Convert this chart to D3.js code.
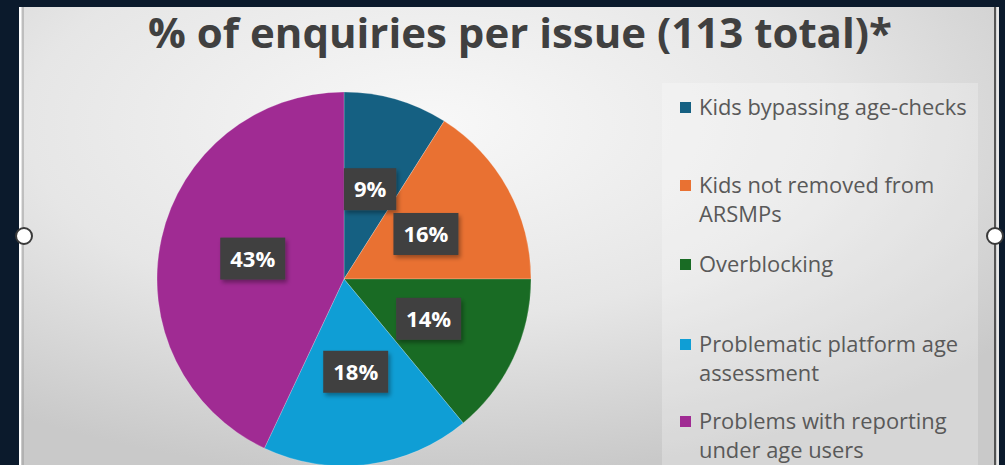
<!DOCTYPE html>
<html>
<head>
<meta charset="utf-8">
<script src="https://cdn.jsdelivr.net/npm/d3@7"></script>
<style>
  html, body { margin: 0; padding: 0; background: #0b1a2c; }
  svg { display: block; }
</style>
</head>
<body>
<svg id="chart" width="1005" height="465"></svg>
<script>
// Enquiries per issue (113 total), shown as percentages
const categories = [
  "Kids bypassing age-checks",
  "Kids not removed from ARSMPs",
  "Overblocking",
  "Problematic platform age assessment",
  "Problems with reporting under age users"
];
const percents = [9, 16, 14, 18, 43];
const colors = ["#156082", "#E97132", "#196B24", "#0F9ED5", "#A02B93"];
const title = "% of enquiries per issue (113 total)*";

const W = 1005, H = 465;
const svg = d3.select("#chart");
const defs = svg.append("defs");

// Soft grey plot-area background
const bg = defs.append("radialGradient").attr("id", "bgGrad")
  .attr("cx", "42%").attr("cy", "25%").attr("r", "75%");
bg.append("stop").attr("offset", "0%").attr("stop-color", "#f8f8f8");
bg.append("stop").attr("offset", "55%").attr("stop-color", "#e6e6e6");
bg.append("stop").attr("offset", "100%").attr("stop-color", "#c9c9c9");

const shadow = defs.append("filter").attr("id", "lblShadow")
  .attr("x", "-20%").attr("y", "-20%").attr("width", "150%").attr("height", "160%");
shadow.append("feDropShadow").attr("dx", 2).attr("dy", 3).attr("stdDeviation", 2)
  .attr("flood-color", "#000").attr("flood-opacity", 0.35);

// Frame
const frame = { x: 19, y: 7, w: 978, h: 470 };
svg.append("rect").attr("x", frame.x).attr("y", frame.y)
  .attr("width", frame.w).attr("height", frame.h)
  .attr("fill", "url(#bgGrad)");
svg.append("line").attr("x1", frame.x + 1).attr("x2", frame.x + 1)
  .attr("y1", frame.y).attr("y2", H).attr("stroke", "#ffffff").attr("stroke-width", 2);
svg.append("line").attr("x1", frame.x + 4).attr("x2", frame.x + 4)
  .attr("y1", frame.y).attr("y2", H).attr("stroke", "#9a9a9a").attr("stroke-width", 1);
svg.append("line").attr("x1", frame.x + frame.w - 2).attr("x2", frame.x + frame.w - 2)
  .attr("y1", frame.y).attr("y2", H).attr("stroke", "#2a2a2a").attr("stroke-width", 1.5);
svg.append("line").attr("x1", frame.x + frame.w + 1).attr("x2", frame.x + frame.w + 1)
  .attr("y1", frame.y).attr("y2", H).attr("stroke", "#e8e8e8").attr("stroke-width", 2);

// Fit a text element's font size to a target width
function fitWidth(sel, baseSize, targetW) {
  sel.attr("font-size", baseSize);
  const w = sel.node().getComputedTextLength();
  const size = baseSize * targetW / w;
  sel.attr("font-size", size);
  return size;
}

// Title
const titleText = svg.append("text")
  .attr("x", 520).attr("y", 48)
  .attr("text-anchor", "middle")
  .attr("font-family", "'Open Sans', Lato, sans-serif")
  .attr("font-weight", 700)
  .attr("fill", "#404040")
  .text(title);
fitWidth(titleText, 40, 744);

// Legend panel
const legendX = 680, legendTextX = 699, legendMaxW = 272;
svg.append("rect").attr("x", 662).attr("y", 83).attr("width", 316).attr("height", 400)
  .attr("fill", "#ffffff").attr("opacity", 0.25);

// Pie
const cx = 344, cy = 279, R = 187;
const pie = d3.pie().sort(null).value(d => d);
const arcs = pie(percents);
const arc = d3.arc().innerRadius(0).outerRadius(R);
const g = svg.append("g").attr("transform", `translate(${cx},${cy})`);

g.selectAll("path.slice").data(arcs).join("path")
  .attr("class", "slice")
  .attr("d", arc)
  .attr("fill", (d, i) => colors[i])
  .attr("stroke", "rgba(255,255,255,0.35)")
  .attr("stroke-width", 0.6);

// Data labels in dark callout boxes at the slice centroids
const labels = g.selectAll("g.lbl").data(arcs).join("g")
  .attr("class", "lbl")
  .attr("transform", d => {
    const [x, y] = arc.centroid(d);
    return `translate(${x},${y})`;
  });
labels.each(function (d) {
  const sel = d3.select(this);
  const rect = sel.append("rect").attr("fill", "#404040").attr("filter", "url(#lblShadow)");
  const t = sel.append("text")
    .attr("text-anchor", "middle")
    .attr("dy", "0.36em")
    .attr("font-family", "'Open Sans', Lato, sans-serif")
    .attr("font-weight", 700)
    .attr("font-size", 22)
    .attr("fill", "#ffffff")
    .text(d.data + "%");
  const tw = t.node().getComputedTextLength();
  const bw = tw + 20, bh = 42;
  rect.attr("x", -bw / 2).attr("y", -bh / 2).attr("width", bw).attr("height", bh);
});

// Legend entries with wrapped text
const legendFont = "'Open Sans', Lato, sans-serif";
const probe = svg.append("text").attr("font-family", legendFont).text(categories[0]);
const legendSize = fitWidth(probe, 19, 268);
probe.remove();

const legendBaselines = [115, 193, 272, 352, 429];
const lineH = 29;
const legend = svg.append("g");
categories.forEach((name, i) => {
  const base = legendBaselines[i];
  legend.append("rect")
    .attr("x", legendX).attr("y", base - 13)
    .attr("width", 11).attr("height", 11)
    .attr("fill", colors[i]);
  const t = legend.append("text")
    .attr("x", legendTextX).attr("y", base)
    .attr("font-family", legendFont)
    .attr("font-size", legendSize)
    .attr("fill", "#595959");
  const words = name.split(" ");
  let line = [], lineNo = 0;
  let tspan = t.append("tspan").attr("x", legendTextX).attr("y", base);
  words.forEach(w => {
    line.push(w);
    tspan.text(line.join(" "));
    if (tspan.node().getComputedTextLength() > legendMaxW && line.length > 1) {
      line.pop();
      tspan.text(line.join(" "));
      line = [w];
      lineNo++;
      tspan = t.append("tspan").attr("x", legendTextX).attr("y", base + lineNo * lineH).text(w);
    }
  });
});

// Selection handles on the frame edges
[[24, 236], [995, 236]].forEach(([x, y]) => {
  svg.append("circle").attr("cx", x).attr("cy", y).attr("r", 8)
    .attr("fill", "#ffffff").attr("stroke", "#3a3a3a").attr("stroke-width", 2);
});
</script>
</body>
</html>
